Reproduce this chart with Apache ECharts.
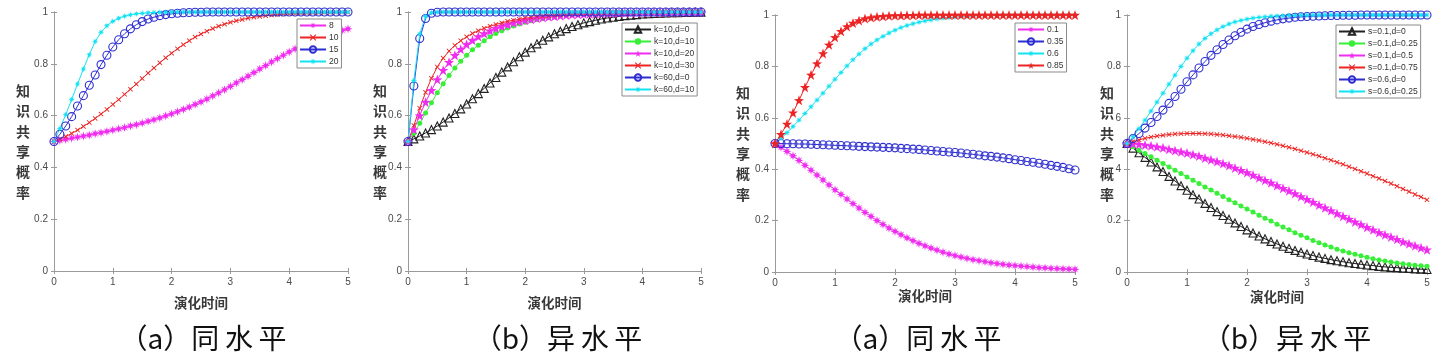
<!DOCTYPE html>
<html>
<head>
<meta charset="utf-8">
<script src="https://cdn.jsdelivr.net/npm/echarts/dist/echarts.min.js"></script>
<style>
html,body{margin:0;padding:0;background:#fff;}
#chart{width:1434px;height:360px;}
</style>
</head>
<body>
<div id="chart"></div>
<script>
// ---------- data ----------
const tValues = [0,0.1,0.2,0.3,0.4,0.5,0.6,0.7,0.8,0.9,1,1.1,1.2,1.3,1.4,1.5,1.6,1.7,1.8,1.9,2,2.1,2.2,2.3,2.4,2.5,2.6,2.7,2.8,2.9,3,3.1,3.2,3.3,3.4,3.5,3.6,3.7,3.8,3.9,4,4.1,4.2,4.3,4.4,4.5,4.6,4.7,4.8,4.9,5];

const yTickLabels = ['0','0.2','0.4','0.6','0.8','1'];
const yTickLabelsD = ['0','0.2','4','6','0.8','1'];
const xTitle = '演化时间';
const yTitle = '知识共享概率';
const captions = ['（a）同\u2009水\u2009平','（b）异\u2009水\u2009平','（a）同\u2009水\u2009平','（b）异\u2009水\u2009平'];

// panel 1 (同水平)
const p1Names = ['8','10','15','20'];
const p1_8 = [0.500,0.504,0.508,0.513,0.517,0.521,0.525,0.530,0.534,0.539,0.544,0.549,0.554,0.560,0.565,0.571,0.578,0.584,0.591,0.599,0.607,0.615,0.624,0.633,0.643,0.653,0.664,0.676,0.688,0.700,0.713,0.726,0.739,0.752,0.766,0.780,0.793,0.807,0.820,0.833,0.846,0.858,0.869,0.880,0.890,0.899,0.907,0.915,0.922,0.929,0.935];
const p1_10 = [0.500,0.509,0.519,0.531,0.544,0.558,0.573,0.589,0.606,0.624,0.643,0.662,0.682,0.702,0.722,0.743,0.764,0.784,0.804,0.823,0.841,0.858,0.874,0.889,0.903,0.915,0.926,0.936,0.945,0.953,0.960,0.966,0.971,0.976,0.980,0.983,0.986,0.988,0.990,0.992,0.993,0.994,0.995,0.996,0.997,0.997,0.998,0.998,0.999,0.999,0.999];
const p1_15 = [0.500,0.528,0.560,0.596,0.637,0.677,0.717,0.757,0.797,0.833,0.865,0.893,0.916,0.935,0.951,0.963,0.973,0.980,0.986,0.990,0.993,0.995,0.997,0.998,0.999,0.999,1,1,1,1,1,1,1,1,1,1,1,1,1,1,1,1,1,1,1,1,1,1,1,1,1];
const p1_20 = [0.500,0.550,0.604,0.662,0.722,0.780,0.835,0.886,0.922,0.947,0.964,0.976,0.984,0.989,0.993,0.995,0.997,0.998,0.999,0.999,1,1,1,1,1,1,1,1,1,1,1,1,1,1,1,1,1,1,1,1,1,1,1,1,1,1,1,1,1,1,1];

// panel 2 (异水平, k / d)
const p2Names = ['k=10,d=0','k=10,d=10','k=10,d=20','k=10,d=30','k=60,d=0','k=60,d=10'];
const p2_k10d0 = [0.500,0.510,0.521,0.533,0.546,0.560,0.575,0.591,0.608,0.626,0.645,0.665,0.685,0.705,0.726,0.747,0.768,0.788,0.808,0.827,0.845,0.862,0.877,0.891,0.904,0.916,0.926,0.936,0.944,0.951,0.958,0.963,0.968,0.973,0.977,0.980,0.983,0.986,0.988,0.990,0.992,0.993,0.994,0.995,0.996,0.997,0.997,0.998,0.998,0.999,0.999];
const p2_k10d10 = [0.500,0.532,0.570,0.610,0.650,0.688,0.723,0.755,0.784,0.810,0.833,0.854,0.872,0.889,0.904,0.917,0.928,0.938,0.946,0.954,0.960,0.966,0.971,0.975,0.979,0.982,0.985,0.987,0.989,0.991,0.992,0.993,0.994,0.995,0.996,0.997,0.997,0.998,0.998,0.998,0.999,0.999,0.999,0.999,1,1,1,1,1,1,1];
const p2_k10d20 = [0.500,0.546,0.600,0.652,0.698,0.739,0.775,0.806,0.833,0.856,0.875,0.891,0.905,0.917,0.928,0.937,0.945,0.952,0.958,0.963,0.968,0.972,0.976,0.979,0.982,0.984,0.986,0.988,0.990,0.991,0.992,0.993,0.994,0.995,0.996,0.996,0.997,0.997,0.998,0.998,0.998,0.999,0.999,0.999,0.999,0.999,1,1,1,1,1];
const p2_k10d30 = [0.500,0.562,0.628,0.690,0.744,0.788,0.822,0.849,0.871,0.889,0.904,0.917,0.928,0.937,0.945,0.952,0.958,0.964,0.968,0.972,0.976,0.979,0.982,0.984,0.986,0.988,0.990,0.991,0.992,0.993,0.994,0.995,0.996,0.996,0.997,0.997,0.998,0.998,0.998,0.999,0.999,0.999,0.999,0.999,1,1,1,1,1,1,1];
const p2_k60d0 = [0.500,0.714,0.898,0.975,0.995,0.999,1,1,1,1,1,1,1,1,1,1,1,1,1,1,1,1,1,1,1,1,1,1,1,1,1,1,1,1,1,1,1,1,1,1,1,1,1,1,1,1,1,1,1,1,1];
const p2_k60d10 = [0.500,0.735,0.915,0.983,0.997,1,1,1,1,1,1,1,1,1,1,1,1,1,1,1,1,1,1,1,1,1,1,1,1,1,1,1,1,1,1,1,1,1,1,1,1,1,1,1,1,1,1,1,1,1,1];

// panel 3 (同水平)
const p3Names = ['0.1','0.35','0.6','0.85'];
const p3_01 = [0.500,0.485,0.469,0.452,0.434,0.415,0.396,0.377,0.358,0.339,0.320,0.302,0.284,0.266,0.249,0.232,0.216,0.200,0.185,0.171,0.158,0.145,0.133,0.122,0.111,0.102,0.093,0.085,0.077,0.070,0.064,0.058,0.053,0.048,0.044,0.040,0.036,0.033,0.030,0.027,0.025,0.023,0.021,0.019,0.017,0.016,0.014,0.013,0.012,0.011,0.010];
const p3_035 = [0.500,0.500,0.499,0.499,0.498,0.498,0.497,0.496,0.495,0.494,0.493,0.492,0.491,0.490,0.489,0.488,0.487,0.486,0.485,0.484,0.483,0.481,0.480,0.478,0.477,0.475,0.473,0.471,0.469,0.467,0.465,0.463,0.460,0.458,0.455,0.452,0.450,0.447,0.444,0.441,0.437,0.434,0.430,0.427,0.423,0.419,0.415,0.411,0.407,0.402,0.397];
const p3_06 = [0.500,0.520,0.542,0.566,0.591,0.617,0.643,0.669,0.696,0.723,0.750,0.776,0.802,0.826,0.848,0.869,0.887,0.903,0.917,0.930,0.941,0.951,0.959,0.966,0.972,0.977,0.981,0.985,0.988,0.990,0.992,0.994,0.995,0.996,0.997,0.997,0.998,0.998,0.999,0.999,0.999,1,1,1,1,1,1,1,1,1,1];
const p3_085 = [0.500,0.536,0.576,0.620,0.668,0.719,0.767,0.811,0.850,0.884,0.913,0.937,0.955,0.969,0.979,0.986,0.990,0.993,0.995,0.997,0.998,0.998,0.999,0.999,1,1,1,1,1,1,1,1,1,1,1,1,1,1,1,1,1,1,1,1,1,1,1,1,1,1,1];

// panel 4 (异水平, s / d)
const p4Names = ['s=0.1,d=0','s=0.1,d=0.25','s=0.1,d=0.5','s=0.1,d=0.75','s=0.6,d=0','s=0.6,d=0.25'];
const p4_s01d0 = [0.500,0.482,0.464,0.446,0.428,0.409,0.391,0.372,0.354,0.336,0.318,0.301,0.284,0.267,0.251,0.235,0.220,0.205,0.191,0.177,0.164,0.152,0.140,0.129,0.119,0.109,0.100,0.092,0.084,0.077,0.070,0.064,0.058,0.053,0.048,0.044,0.040,0.036,0.033,0.030,0.027,0.025,0.022,0.020,0.018,0.017,0.015,0.014,0.012,0.011,0.010];
const p4_s01d025 = [0.500,0.487,0.474,0.461,0.448,0.435,0.422,0.409,0.396,0.383,0.370,0.357,0.344,0.331,0.319,0.306,0.294,0.281,0.269,0.257,0.245,0.233,0.221,0.209,0.198,0.186,0.175,0.164,0.153,0.143,0.133,0.123,0.114,0.105,0.097,0.089,0.082,0.075,0.069,0.063,0.057,0.052,0.047,0.043,0.039,0.035,0.032,0.029,0.026,0.024,0.022];
const p4_s01d05 = [0.500,0.499,0.497,0.494,0.491,0.487,0.483,0.478,0.473,0.468,0.463,0.457,0.451,0.444,0.437,0.430,0.422,0.414,0.405,0.396,0.387,0.377,0.367,0.357,0.347,0.337,0.326,0.316,0.305,0.294,0.283,0.272,0.261,0.250,0.239,0.228,0.217,0.206,0.195,0.185,0.174,0.164,0.154,0.145,0.136,0.127,0.118,0.110,0.102,0.094,0.087];
const p4_s01d075 = [0.500,0.507,0.514,0.520,0.525,0.529,0.532,0.535,0.537,0.538,0.539,0.539,0.539,0.538,0.537,0.535,0.533,0.530,0.527,0.524,0.520,0.516,0.512,0.507,0.502,0.497,0.491,0.485,0.479,0.472,0.465,0.458,0.451,0.443,0.435,0.427,0.419,0.410,0.401,0.392,0.383,0.373,0.364,0.354,0.344,0.334,0.323,0.313,0.302,0.292,0.281];
const p4_s06d0 = [0.500,0.519,0.539,0.560,0.582,0.605,0.630,0.656,0.683,0.711,0.740,0.767,0.794,0.819,0.843,0.865,0.885,0.903,0.919,0.933,0.945,0.955,0.963,0.970,0.976,0.981,0.985,0.988,0.991,0.993,0.994,0.995,0.996,0.997,0.998,0.998,0.999,0.999,0.999,1,1,1,1,1,1,1,1,1,1,1,1];
const p4_s06d025 = [0.500,0.526,0.558,0.591,0.626,0.661,0.696,0.731,0.766,0.800,0.832,0.861,0.887,0.909,0.927,0.942,0.955,0.965,0.973,0.979,0.984,0.988,0.991,0.993,0.995,0.996,0.997,0.998,0.998,0.999,0.999,1,1,1,1,1,1,1,1,1,1,1,1,1,1,1,1,1,1,1,1];

// ---------- styles ----------
const C = {mag:'#f02cf0', red:'#ec2424', blue:'#2d2dd2', cyan:'#14e2f2', green:'#38ef38', black:'#222222'};
const SYM = {
  ast:'path://M0,-10 L1.8,-3.6 L7.07,-7.07 L3.6,-1.8 L10,0 L3.6,1.8 L7.07,7.07 L1.8,3.6 L0,10 L-1.8,3.6 L-7.07,7.07 L-3.6,1.8 L-10,0 L-3.6,-1.8 L-7.07,-7.07 L-1.8,-3.6 Z',
  pent:'path://M0,-10 L2.35,-3.24 L9.51,-3.09 L3.8,1.24 L5.88,8.09 L0,4 L-5.88,8.09 L-3.8,1.24 L-9.51,-3.09 L-2.35,-3.24 Z',
  x:'path://M-10,-7.5 L-7.5,-10 L0,-2.5 L7.5,-10 L10,-7.5 L2.5,0 L10,7.5 L7.5,10 L0,2.5 L-7.5,10 L-10,7.5 L-2.5,0 Z'
};
function mk(kind, color){
  if(kind==='o') return {symbol:'circle', symbolSize:8, itemStyle:{color:'rgba(255,255,255,0)', borderColor:color, borderWidth:1.1}};
  if(kind==='^') return {symbol:'triangle', symbolSize:8, itemStyle:{color:'rgba(255,255,255,0)', borderColor:color, borderWidth:1.1}};
  if(kind==='*') return {symbol:SYM.ast, symbolSize:9, itemStyle:{color:color, borderWidth:0}};
  if(kind==='p') return {symbol:SYM.pent, symbolSize:10, itemStyle:{color:color, borderWidth:0}};
  if(kind==='x') return {symbol:SYM.x, symbolSize:5, itemStyle:{color:color, borderWidth:0}};
  if(kind==='.') return {symbol:'circle', symbolSize:5, itemStyle:{color:color, borderWidth:0}};
  if(kind==='s') return {symbol:SYM.ast, symbolSize:6.5, itemStyle:{color:color, borderWidth:0}};
}

const panels = [
  {grid:{left:54, top:12, width:294, height:259}, ylab:yTickLabels, xGap:25, yGap:24, yShift:9,
   legend:{left:297, top:19},
   series:[[p1Names[0],p1_8,C.mag,'*'],[p1Names[1],p1_10,C.red,'x'],[p1Names[2],p1_15,C.blue,'o'],[p1Names[3],p1_20,C.cyan,'s']]},
  {grid:{left:408, top:12, width:293, height:259}, ylab:yTickLabels, xGap:25, yGap:21, yShift:9,
   legend:{left:622, top:23},
   series:[[p2Names[0],p2_k10d0,C.black,'^'],[p2Names[1],p2_k10d10,C.green,'.'],[p2Names[2],p2_k10d20,C.mag,'p'],[p2Names[3],p2_k10d30,C.red,'x'],[p2Names[4],p2_k60d0,C.blue,'o'],[p2Names[5],p2_k60d10,C.cyan,'s']]},
  {grid:{left:775, top:15, width:300, height:257}, ylab:yTickLabels, xGap:17, yGap:25, yShift:0,
   legend:{left:1015, top:23},
   series:[[p3Names[0],p3_01,C.mag,'*'],[p3Names[1],p3_035,C.blue,'o'],[p3Names[2],p3_06,C.cyan,'s'],[p3Names[3],p3_085,C.red,'p']]},
  {grid:{left:1127, top:15, width:300, height:257}, ylab:yTickLabelsD, xGap:18, yGap:13, yShift:0,
   legend:{left:1336, top:25},
   series:[[p4Names[0],p4_s01d0,C.black,'^'],[p4Names[1],p4_s01d025,C.green,'.'],[p4Names[2],p4_s01d05,C.mag,'p'],[p4Names[3],p4_s01d075,C.red,'x'],[p4Names[4],p4_s06d0,C.blue,'o'],[p4Names[5],p4_s06d025,C.cyan,'s']]}
];

const AX = '#9a9a9a';
const grids=[], xAxes=[], yAxes=[], series=[], legends=[], graphics=[];
panels.forEach((p,i)=>{
  grids.push(Object.assign({containLabel:false}, p.grid));
  xAxes.push({type:'value', gridIndex:i, min:0, max:5, interval:1, position:'bottom',
    axisLine:{show:true, lineStyle:{color:AX, width:1}},
    axisTick:{show:true, inside:true, length:3, lineStyle:{color:AX}},
    axisLabel:{fontSize:10, color:'#4a4a4a', margin:6, fontFamily:'Liberation Sans, Arial, sans-serif'},
    splitLine:{show:false},
    name:xTitle, nameLocation:'middle', nameGap:p.xGap, nameMoveOverlap:false,
    nameTextStyle:{fontSize:13.5, fontWeight:'bold', color:'#3a3a3a', fontFamily:'Noto Sans CJK SC', verticalAlign:'top'}});
  xAxes.push({type:'value', gridIndex:i, min:0, max:5, interval:1, position:'top',
    axisLine:{show:true, lineStyle:{color:AX, width:1}},
    axisTick:{show:true, inside:true, length:3, lineStyle:{color:AX}},
    axisLabel:{show:false}, splitLine:{show:false}});
  const labs = p.ylab;
  yAxes.push({type:'value', gridIndex:i, min:0, max:1, interval:0.2, position:'left',
    axisLine:{show:true, lineStyle:{color:AX, width:1}},
    axisTick:{show:true, inside:true, length:3, lineStyle:{color:AX}},
    axisLabel:{fontSize:10, color:'#4a4a4a', margin:6, fontFamily:'Liberation Sans, Arial, sans-serif',
      formatter:(v)=>labs[Math.round(v/0.2)]},
    splitLine:{show:false},
    name:yTitle.split('').join('\n'), nameLocation:'middle', nameRotate:0, nameGap:p.yGap, nameMoveOverlap:false,
    nameTextStyle:{fontSize:14, fontWeight:'bold', color:'#3a3a3a', lineHeight:20.4, padding:[p.yShift,0,0,0], fontFamily:'Noto Sans CJK SC'}});
  yAxes.push({type:'value', gridIndex:i, min:0, max:1, interval:0.2, position:'right',
    axisLine:{show:true, lineStyle:{color:AX, width:1}},
    axisTick:{show:true, inside:true, length:3, lineStyle:{color:AX}},
    axisLabel:{show:false}, splitLine:{show:false}});
  const names=[];
  p.series.forEach(s=>{
    const [name, vals, color, kind] = s;
    names.push(name);
    series.push(Object.assign({type:'line', name:name, xAxisIndex:2*i, yAxisIndex:2*i,
      data:tValues.map((t,j)=>[t, vals[j]]), showSymbol:true, showAllSymbol:true,
      lineStyle:{color:color, width:1}, emphasis:{disabled:true}, animation:false}, mk(kind,color)));
  });
  legends.push({data:names, orient:'vertical', left:p.legend.left, top:p.legend.top,
    itemWidth:26, itemHeight:8, itemGap:3, padding:[2,3,2,2],
    backgroundColor:'#fff', borderColor:'#8a8a8a', borderWidth:1, borderRadius:0,
    selectedMode:false,
    textStyle:{fontSize:8.5, color:'#333', fontFamily:'Liberation Sans, Arial, sans-serif', padding:[0,0,0,-2]}});
});
const capX = [203, 558, 918, 1287];
captions.forEach((c,i)=>{
  graphics.push({type:'text', x:capX[i], y:338, style:{text:c, fontSize:28, fill:'#111', textAlign:'center', textVerticalAlign:'middle', fontFamily:'Noto Sans CJK SC'}});
});

const chart = echarts.init(document.getElementById('chart'), null, {renderer:'canvas'});
chart.setOption({
  animation:false,
  backgroundColor:'#fff',
  grid:grids, xAxis:xAxes, yAxis:yAxes, series:series, legend:legends, graphic:graphics,
  tooltip:{show:false}
});
</script>
</body>
</html>
